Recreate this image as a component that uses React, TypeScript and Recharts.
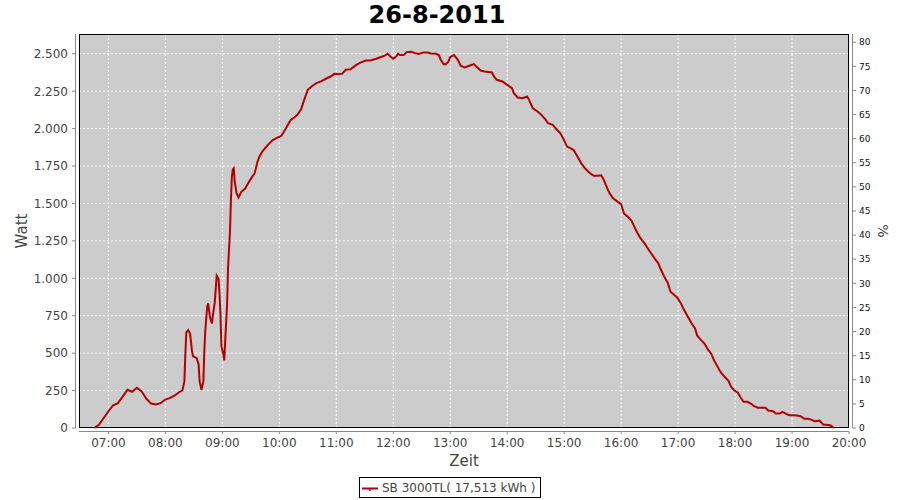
import { CartesianGrid, Customized, Line, LineChart, XAxis, YAxis, usePlotArea } from "recharts"

// samples (time of day, output in W)
const times = [
  "06:45", "06:50", "06:55", "07:00", "07:05", "07:10", "07:15", "07:20", "07:25", "07:30",
  "07:35", "07:40", "07:45", "07:50", "07:55", "08:00", "08:05", "08:10", "08:15", "08:18",
  "08:20", "08:21", "08:22", "08:24", "08:26", "08:28", "08:29", "08:33", "08:35", "08:36",
  "08:38", "08:40", "08:41", "08:42", "08:44", "08:45", "08:47", "08:49", "08:50", "08:52",
  "08:54", "08:56", "08:57", "08:58", "08:59", "09:01", "09:02", "09:03", "09:05", "09:06",
  "09:08", "09:09", "09:10", "09:11", "09:12", "09:13", "09:15", "09:17", "09:20", "09:24",
  "09:27", "09:31", "09:34", "09:37", "09:39", "09:42", "09:48", "09:53", "09:58", "10:02",
  "10:05", "10:09", "10:12", "10:16", "10:19", "10:23", "10:25", "10:28", "10:30", "10:35",
  "10:39", "10:44", "10:49", "10:54", "10:58", "11:01", "11:06", "11:10", "11:15", "11:21",
  "11:26", "11:31", "11:36", "11:42", "11:47", "11:51", "11:54", "11:57", "12:00", "12:03",
  "12:05", "12:07", "12:11", "12:14", "12:19", "12:23", "12:27", "12:32", "12:36", "12:40",
  "12:45", "12:48", "12:50", "12:53", "12:55", "12:58", "13:00", "13:04", "13:08", "13:11",
  "13:15", "13:20", "13:25", "13:28", "13:32", "13:36", "13:44", "13:46", "13:49", "13:55",
  "14:00", "14:05", "14:07", "14:11", "14:16", "14:21", "14:23", "14:27", "14:32", "14:36",
  "14:40", "14:43", "14:48", "14:51", "14:56", "14:59", "15:03", "15:07", "15:10", "15:14",
  "15:18", "15:22", "15:26", "15:31", "15:35", "15:39", "15:41", "15:44", "15:47", "15:51",
  "15:54", "16:00", "16:03", "16:07", "16:11", "16:14", "16:17", "16:20", "16:25", "16:29",
  "16:32", "16:35", "16:39", "16:42", "16:45", "16:49", "16:52", "16:56", "16:59", "17:03",
  "17:06", "17:10", "17:14", "17:18", "17:20", "17:24", "17:28", "17:31", "17:35", "17:38",
  "17:42", "17:45", "17:49", "17:53", "17:56", "17:59", "18:03", "18:06", "18:09", "18:13",
  "18:17", "18:20", "18:24", "18:28", "18:32", "18:35", "18:40", "18:43", "18:47", "18:50",
  "18:54", "18:57", "19:01", "19:05", "19:09", "19:13", "19:17", "19:20", "19:24", "19:29",
  "19:33", "19:36", "19:40", "19:42", "19:44",
]
const watts = [
  0, 22, 67, 112, 152, 166, 210, 255, 242, 269,
  244, 195, 163, 157, 166, 190, 201, 217, 242, 251,
  313, 492, 638, 654, 631, 515, 481, 466, 425, 313,
  255, 313, 515, 649, 810, 833, 739, 698, 750, 839,
  1018, 996, 895, 761, 548, 492, 452, 582, 828, 1074,
  1309, 1522, 1679, 1728, 1735, 1645, 1567, 1540, 1578, 1600,
  1634, 1674, 1701, 1779, 1812, 1846, 1891, 1924, 1940, 1951,
  1980, 2025, 2058, 2076, 2092, 2129, 2170, 2225, 2259, 2286,
  2304, 2315, 2333, 2348, 2366, 2364, 2366, 2393, 2397, 2426,
  2442, 2455, 2455, 2467, 2478, 2487, 2500, 2482, 2467, 2482,
  2500, 2491, 2491, 2511, 2513, 2504, 2498, 2509, 2509, 2502,
  2500, 2491, 2460, 2431, 2429, 2446, 2478, 2491, 2460, 2420,
  2408, 2420, 2431, 2411, 2388, 2382, 2375, 2348, 2326, 2315,
  2292, 2270, 2237, 2208, 2203, 2214, 2192, 2136, 2114, 2092,
  2063, 2036, 2025, 2002, 1969, 1935, 1880, 1868, 1857, 1813,
  1768, 1734, 1708, 1685, 1685, 1688, 1667, 1623, 1578, 1538,
  1522, 1496, 1433, 1411, 1384, 1344, 1304, 1272, 1230, 1191,
  1164, 1135, 1102, 1057, 1016, 971, 910, 888, 872, 832,
  791, 746, 701, 663, 618, 589, 562, 528, 495, 450,
  405, 371, 342, 315, 274, 252, 236, 202, 175, 175,
  162, 146, 135, 135, 135, 117, 112, 97, 97, 108,
  94, 85, 85, 83, 79, 61, 61, 56, 45, 49,
  22, 22, 18, 11, 0,
]

const hourTicks = ["07:00", "08:00", "09:00", "10:00", "11:00", "12:00", "13:00", "14:00",
  "15:00", "16:00", "17:00", "18:00", "19:00", "20:00"]
const wattTicks = [0, 250, 500, 750, 1000, 1250, 1500, 1750, 2000, 2250, 2500]
const percentTicks = [0, 5, 10, 15, 20, 25, 30, 35, 40, 45, 50, 55, 60, 65, 70, 75, 80]

const title = "26-8-2011"
const seriesName = "SB 3000TL( 17,513 kWh )"

const toMin = (s: string) => {
  const [h, m] = s.split(":").map(Number)
  return h * 60 + m
}
const pad = (n: number) => String(n).padStart(2, "0")
const fmtTime = (v: number) => `${pad(Math.floor(v / 60))}:${pad(v % 60)}`
const fmtWatt = (v: number) => (v >= 1000 ? `${Math.floor(v / 1000)}.${String(v % 1000).padStart(3, "0")}` : String(v))

const data = times.map((t, i) => ({ t: toMin(t), w: watts[i] }))

const FONT = "'DejaVu Sans', sans-serif"
const RED = "#b40000"
const AXIS = "#888888"

function LeftTick(props: any) {
  const { x, y, payload } = props
  return (
    <g>
      <line x1={x + 4} x2={x + 7.5} y1={y} y2={y} stroke={AXIS} />
      <text x={x} y={y} dy="0.36em" textAnchor="end" fontSize={12} fill="#444" fontFamily={FONT}>
        {fmtWatt(payload.value)}
      </text>
    </g>
  )
}

function RightTick(props: any) {
  const { x, y, payload } = props
  return (
    <g>
      <line x1={x - 6.5} x2={x - 3} y1={y} y2={y} stroke={AXIS} />
      <text x={x} y={y} dy="0.36em" textAnchor="start" fontSize={9} fill="#111" fontFamily={FONT}>
        {payload.value}
      </text>
    </g>
  )
}

function BottomTick(props: any) {
  const { x, y, payload } = props
  return (
    <g>
      <line x1={x} x2={x} y1={y - 6.5} y2={y - 4} stroke={AXIS} />
      <text x={x} y={y} dy="0.71em" textAnchor="middle" fontSize={12} fill="#444" fontFamily={FONT}>
        {fmtTime(payload.value)}
      </text>
    </g>
  )
}

function Frame() {
  const area = usePlotArea()
  if (!area) return null
  const { x, y, width, height } = area
  return (
    <g>
      <rect x={x + 0.5} y={y + 0.5} width={width - 1} height={height - 1} fill="none" stroke="#000" />
      <line x1={x - 3.5} x2={x - 3.5} y1={y} y2={y + height} stroke={AXIS} />
      <line x1={x + width + 3.5} x2={x + width + 3.5} y1={y} y2={y + height} stroke={AXIS} />
      <line x1={x} x2={x + width} y1={y + height + 3.5} y2={y + height + 3.5} stroke={AXIS} />
    </g>
  )
}

export default function App() {
  return (
    <div style={{ position: "relative", width: 900, height: 500, fontFamily: FONT, background: "#fff" }}>
      <style>{"body{margin:0}"}</style>
      <div
        style={{
          position: "absolute",
          top: 1,
          left: -13,
          width: 900,
          textAlign: "center",
          fontSize: 24,
          fontWeight: "bold",
          lineHeight: "28px",
          color: "#000",
        }}
      >
        {title}
      </div>
      <LineChart width={900} height={500} data={data} margin={{ top: 34, right: 0, bottom: 0, left: 0 }}>
        <CartesianGrid yAxisId="w" stroke="#ffffff" strokeDasharray="2 2" fill="#cccccc" fillOpacity={1} />
        <XAxis
          dataKey="t"
          type="number"
          domain={[389, 1200]}
          ticks={hourTicks.map(toMin)}
          height={72}
          axisLine={false}
          tickLine={false}
          tickSize={0}
          tickMargin={10}
          tick={<BottomTick />}
          label={{ value: "Zeit", position: "insideTop", offset: 27, fill: "#444", fontSize: 15, fontFamily: FONT }}
        />
        <YAxis
          yAxisId="w"
          type="number"
          domain={[0, 2632]}
          ticks={wattTicks}
          width={79}
          axisLine={false}
          tickLine={false}
          tickSize={0}
          tickMargin={11}
          tick={<LeftTick />}
          label={{
            value: "Watt",
            angle: -90,
            position: "insideLeft",
            offset: 22,
            fill: "#444",
            fontSize: 15,
            fontFamily: FONT,
            style: { textAnchor: "middle" },
          }}
        />
        <YAxis
          yAxisId="p"
          orientation="right"
          type="number"
          domain={[0, 81.7]}
          allowDataOverflow
          ticks={percentTicks}
          interval={0}
          width={51}
          axisLine={false}
          tickLine={false}
          tickSize={0}
          tickMargin={10}
          tick={<RightTick />}
          label={{
            value: "%",
            angle: 90,
            position: "insideRight",
            offset: 17,
            fill: "#444",
            fontSize: 14,
            fontFamily: FONT,
            style: { textAnchor: "middle" },
          }}
        />
        <Line
          yAxisId="w"
          dataKey="w"
          type="linear"
          stroke={RED}
          strokeWidth={2}
          dot={false}
          isAnimationActive={false}
          name={seriesName}
        />
        <Customized component={<Frame />} />
      </LineChart>
      <div
        style={{
          position: "absolute",
          left: 359,
          top: 477,
          width: 180,
          height: 19,
          border: "1px solid #000",
          background: "#fff",
          display: "flex",
          alignItems: "center",
          fontSize: 12,
          color: "#444",
          whiteSpace: "nowrap",
        }}
      >
        <svg width={22} height={19} style={{ flex: "none" }}>
          <line x1={2} x2={18} y1={10.5} y2={10.5} stroke={RED} strokeWidth={2} />
          <line x1={10} x2={10} y1={10} y2={13} stroke={RED} strokeWidth={1.5} />
        </svg>
        <span>{seriesName}</span>
      </div>
    </div>
  )
}
